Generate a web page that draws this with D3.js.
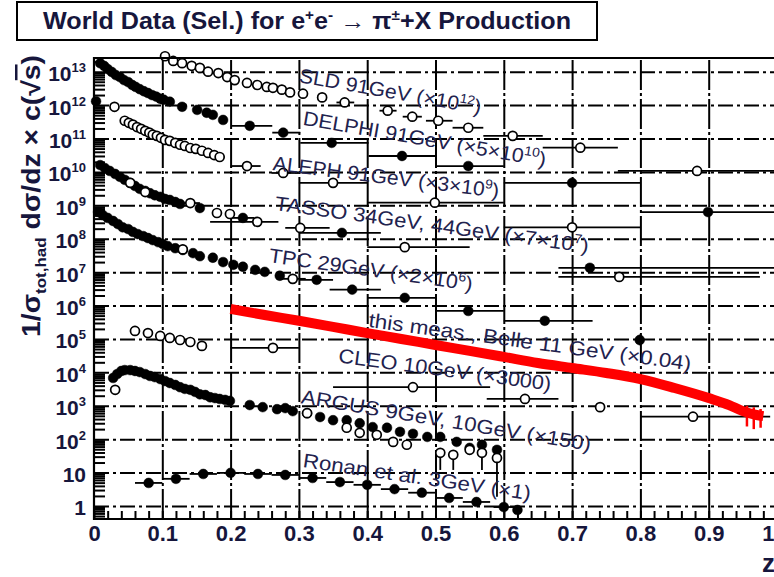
<!DOCTYPE html>
<html>
<head>
<meta charset="utf-8">
<script src="https://cdn.jsdelivr.net/npm/d3@7"></script>
<style>
  body { margin: 0; background: #fff; }
  svg { display: block; }
</style>
</head>
<body>
<svg id="chart" width="774" height="577"></svg>
<script>
// ---------------------------------------------------------------------------
// Scaled pi+- fragmentation data, 1/sigma_tot,had dsigma/dz x c(sqrt s)
// Each point: z, value, optional bin edges (lo, hi) and optional vertical
// error range (elo, ehi).
// ---------------------------------------------------------------------------

// SLD 91 GeV (x 1e12), open circles
const sld = [
  {z:0.030,v:8.9e11},
  {z:0.104,v:2.9e13},{z:0.116,v:2.1e13},{z:0.129,v:1.8e13},{z:0.143,v:1.5e13},
  {z:0.155,v:1.3e13},{z:0.167,v:1.0e13},{z:0.182,v:9.1e12},{z:0.195,v:6.9e12},
  {z:0.206,v:5.6e12},{z:0.224,v:4.6e12},{z:0.239,v:4.0e12},{z:0.253,v:3.5e12},
  {z:0.262,v:3.3e12},{z:0.275,v:2.9e12},{z:0.287,v:2.4e12},{z:0.306,v:2.2e12},
  {z:0.334,v:1.7e12},
  {z:0.367,v:1.2e12,lo:0.355,hi:0.381},{z:0.430,v:6.8e11,lo:0.418,hi:0.443},
  {z:0.466,v:4.5e11,lo:0.452,hi:0.480},{z:0.504,v:3.4e11,lo:0.486,hi:0.525},
  {z:0.548,v:2.1e11,lo:0.525,hi:0.570},{z:0.613,v:1.2e11,lo:0.570,hi:0.657},
  {z:0.712,v:5.3e10,lo:0.657,hi:0.767},{z:0.883,v:1.07e10,lo:0.767,hi:1.0}
];

// DELPHI 91 GeV (x 5e10), filled circles
const delphi = [
  {z:0.003,v:1.3e12},
  {z:0.009,v:1.8e13},{z:0.015,v:1.48e13},{z:0.020,v:1.2e13},{z:0.026,v:9.8e12},
  {z:0.032,v:7.9e12},{z:0.038,v:6.9e12},{z:0.044,v:5.6e12},{z:0.050,v:4.9e12},
  {z:0.056,v:4.0e12},{z:0.061,v:3.5e12},{z:0.067,v:3.0e12},{z:0.073,v:2.6e12},
  {z:0.079,v:2.3e12},{z:0.085,v:2.0e12},{z:0.091,v:1.8e12},{z:0.097,v:1.55e12},
  {z:0.102,v:1.45e12},{z:0.111,v:1.26e12},{z:0.129,v:8.9e11},{z:0.151,v:7.2e11},
  {z:0.165,v:5.9e11},{z:0.174,v:5.1e11},{z:0.189,v:3.6e11},
  {z:0.228,v:2.4e11,lo:0.201,hi:0.261},{z:0.277,v:1.5e11,lo:0.261,hi:0.302},
  {z:0.348,v:7.4e10,lo:0.302,hi:0.402},{z:0.451,v:3.0e10,lo:0.402,hi:0.502},
  {z:0.548,v:1.5e10,lo:0.502,hi:0.600},{z:0.700,v:4.7e9,lo:0.600,hi:0.800},
  {z:0.899,v:6.3e8,lo:0.800,hi:1.0}
];

// ALEPH 91 GeV (x 3e9), open circles
const aleph = [
  {z:0.045,v:3.4e11},{z:0.051,v:2.95e11},{z:0.057,v:2.6e11},{z:0.063,v:2.2e11},
  {z:0.069,v:1.95e11},{z:0.075,v:1.7e11},{z:0.081,v:1.5e11},{z:0.086,v:1.3e11},
  {z:0.092,v:1.2e11},{z:0.098,v:1.05e11},{z:0.104,v:9.1e10},{z:0.111,v:8.5e10},
  {z:0.119,v:7.4e10},{z:0.126,v:6.5e10},{z:0.133,v:6.0e10},{z:0.141,v:5.2e10},
  {z:0.149,v:4.9e10},{z:0.158,v:4.3e10},{z:0.167,v:3.7e10},{z:0.176,v:3.2e10},
  {z:0.184,v:2.8e10},
  {z:0.224,v:1.5e10,lo:0.200,hi:0.244},{z:0.277,v:9.3e9,lo:0.260,hi:0.300},
  {z:0.350,v:4.7e9,lo:0.300,hi:0.400},{z:0.499,v:1.2e9,lo:0.400,hi:0.600},
  {z:0.700,v:2.2e8,lo:0.600,hi:0.800}
];

// TASSO 34 GeV (x 7e7), filled circles
const tasso34 = [
  {z:0.009,v:1.6e10},{z:0.016,v:1.3e10},{z:0.023,v:1.07e10},{z:0.031,v:8.7e9},
  {z:0.038,v:7.1e9},{z:0.045,v:5.8e9},{z:0.053,v:4.7e9},{z:0.060,v:3.8e9},
  {z:0.067,v:3.1e9},{z:0.075,v:2.7e9},{z:0.082,v:2.3e9},{z:0.089,v:2.0e9},
  {z:0.097,v:1.8e9},{z:0.104,v:1.55e9},{z:0.111,v:1.45e9},{z:0.119,v:1.26e9},
  {z:0.126,v:1.1e9},{z:0.155,v:8.3e8},
  {z:0.218,v:4.2e8,lo:0.200,hi:0.235},{z:0.363,v:1.5e8,lo:0.300,hi:0.420},
  {z:0.726,v:1.35e7,lo:0.680,hi:1.0}
];

// TASSO 44 GeV (x 7e7), open circles
const tasso44 = [
  {z:0.053,v:4.7e9},{z:0.075,v:2.5e9},{z:0.141,v:1.17e9,lo:0.130,hi:0.155},
  {z:0.180,v:5.9e8},{z:0.199,v:5.5e8},{z:0.239,v:3.2e8,lo:0.170,hi:0.270},
  {z:0.302,v:2.1e8,lo:0.280,hi:0.345},{z:0.455,v:5.6e7,lo:0.400,hi:0.550},
  {z:0.769,v:7.2e6,lo:0.680,hi:0.975}
];

// TPC 29 GeV (x 2e6), filled circles
const tpc = [
  {z:0.006,v:6.3e8},{z:0.013,v:5.1e8},{z:0.020,v:4.2e8},{z:0.028,v:3.4e8},
  {z:0.035,v:2.75e8},{z:0.042,v:2.2e8},{z:0.050,v:1.95e8},{z:0.057,v:1.6e8},
  {z:0.064,v:1.38e8},{z:0.072,v:1.2e8},{z:0.079,v:1.05e8},{z:0.086,v:9.1e7},
  {z:0.094,v:7.9e7},{z:0.101,v:6.9e7},{z:0.108,v:6.0e7},{z:0.119,v:5.2e7},
  {z:0.130,v:4.6e7},{z:0.145,v:3.7e7},{z:0.155,v:3.0e7},{z:0.174,v:2.7e7},
  {z:0.189,v:2.0e7},{z:0.204,v:1.66e7},{z:0.218,v:1.45e7},{z:0.236,v:1.17e7},
  {z:0.250,v:1.02e7},{z:0.272,v:7.8e6},
  {z:0.326,v:5.9e6,lo:0.300,hi:0.350},{z:0.378,v:3.0e6,lo:0.345,hi:0.420},
  {z:0.455,v:1.7e6,lo:0.400,hi:0.500},{z:0.548,v:6.9e5,lo:0.500,hi:0.600},
  {z:0.660,v:3.5e5,lo:0.600,hi:0.730},{z:0.799,v:9.3e4,elo:6.5e4,ehi:1.35e5}
];

// TPC 29 GeV (x 2e6), open circles
const tpcOpen = [
  {z:0.130,v:4.8e7},{z:0.291,v:6.3e6,lo:0.270,hi:0.310}
];

// CLEO 10 GeV (x 3000), open circles
const cleo = [
  {z:0.060,v:1.74e5},{z:0.079,v:1.5e5},{z:0.097,v:1.23e5},{z:0.111,v:1.07e5},
  {z:0.126,v:9.3e4},{z:0.141,v:8.1e4},{z:0.158,v:6.2e4},
  {z:0.262,v:5.4e4,lo:0.200,hi:0.300},{z:0.467,v:3.6e3,lo:0.350,hi:0.580},
  {z:0.631,v:1.6e3,lo:0.575,hi:0.680},{z:0.741,v:9.1e2},
  {z:0.877,v:4.7e2,lo:0.800,hi:0.990}
];

// ARGUS 9 GeV (x 150), filled circles
const argus9 = [
  {z:0.028,v:6.8e3},{z:0.034,v:8.9e3},{z:0.040,v:1.1e4},{z:0.045,v:1.17e4},
  {z:0.053,v:1.17e4},{z:0.060,v:1.1e4},{z:0.067,v:1.02e4},{z:0.075,v:8.9e3},
  {z:0.082,v:7.8e3},{z:0.089,v:7.2e3},{z:0.097,v:6.3e3},{z:0.104,v:5.5e3},
  {z:0.111,v:4.8e3},{z:0.119,v:4.2e3},{z:0.126,v:3.6e3},{z:0.133,v:3.2e3},
  {z:0.141,v:3.0e3},{z:0.148,v:2.6e3},{z:0.155,v:2.2e3},{z:0.163,v:2.1e3},
  {z:0.170,v:1.8e3},{z:0.177,v:1.7e3},{z:0.184,v:1.6e3},{z:0.192,v:1.5e3},
  {z:0.199,v:1.4e3},{z:0.228,v:1.05e3},{z:0.247,v:9.1e2},{z:0.268,v:7.9e2},
  {z:0.280,v:8.5e2},{z:0.291,v:6.9e2},{z:0.312,v:6.0e2},{z:0.331,v:4.6e2},
  {z:0.350,v:3.7e2},{z:0.370,v:3.7e2},{z:0.389,v:3.0e2},{z:0.408,v:2.3e2},
  {z:0.429,v:2.2e2},{z:0.448,v:1.66e2},{z:0.467,v:1.45e2},{z:0.488,v:1.17e2},
  {z:0.507,v:1.17e2},{z:0.531,v:8.3e1},{z:0.550,v:5.5e1},{z:0.568,v:6.8e1},
  {z:0.590,v:4.8e1}
];

// ARGUS 10 GeV (x 150), open circles
const argus10 = [
  {z:0.031,v:3.0e3},{z:0.312,v:6.0e2},{z:0.370,v:2.2e2},{z:0.389,v:1.55e2},
  {z:0.414,v:1.35e2},{z:0.438,v:8.3e1},{z:0.458,v:6.8e1},
  {z:0.507,v:3.9e1,elo:1.2e1},{z:0.526,v:3.4e1,elo:1.2e1},{z:0.550,v:4.8e1},
  {z:0.568,v:3.9e1,elo:1.2e1},{z:0.590,v:2.75e1,elo:1.9}
];

// Ronan et al. 3 GeV (x 1), filled circles
const ronan = [
  {z:0.08,v:4.9,lo:0.06,hi:0.10},{z:0.12,v:6.5,lo:0.10,hi:0.14},
  {z:0.16,v:9.1,lo:0.14,hi:0.18},{z:0.20,v:9.8,lo:0.18,hi:0.22},
  {z:0.24,v:9.1,lo:0.22,hi:0.26},{z:0.28,v:8.5,lo:0.26,hi:0.30},
  {z:0.32,v:6.9,lo:0.30,hi:0.34},{z:0.36,v:5.2,lo:0.34,hi:0.38},
  {z:0.40,v:4.3,lo:0.38,hi:0.42},{z:0.44,v:3.2,lo:0.42,hi:0.46},
  {z:0.48,v:2.5,lo:0.46,hi:0.50},{z:0.52,v:1.74,lo:0.50,hi:0.54},
  {z:0.56,v:1.32,lo:0.54,hi:0.58},{z:0.60,v:0.93,lo:0.585,hi:0.615},
  {z:0.62,v:0.76}
];

// Belle 11 GeV, this measurement (x 0.04)
const belle = [
  {z:0.20,v:7.9e5},{z:0.25,v:5.2e5},{z:0.30,v:3.5e5},{z:0.35,v:2.3e5},
  {z:0.40,v:1.5e5},{z:0.45,v:1.0e5},{z:0.50,v:6.6e4},{z:0.55,v:4.4e4},
  {z:0.60,v:2.9e4},{z:0.65,v:1.9e4},{z:0.70,v:1.35e4},{z:0.75,v:9.6e3},
  {z:0.80,v:6.3e3},{z:0.85,v:3.4e3},{z:0.90,v:1.7e3},{z:0.93,v:1.05e3},
  {z:0.95,v:6.9e2},{z:0.97,v:5.3e2},{z:0.98,v:4.9e2}
];
// Belle error bars in the last bins
const belleTail = [
  {z:0.956,elo:2.4e2,ehi:1.0e3},{z:0.966,elo:2.0e2,ehi:9.0e2},{z:0.976,elo:2.2e2,ehi:8.0e2}
];

// Axis ticks
const xMajor = [0,0.1,0.2,0.3,0.4,0.5,0.6,0.7,0.8,0.9,1];
const xMajorLabels = ["0","0.1","0.2","0.3","0.4","0.5","0.6","0.7","0.8","0.9","1"];
const yDecadeExp = [0,1,2,3,4,5,6,7,8,9,10,11,12,13];

// Series annotations: text parts, anchor (z, value), end z, rotation
const notes = [
  {parts:[["SLD 91GeV (\u00d710"],["12","sup"],[")"]], z:0.299, v:4.9e12, zEnd:0.565, angle:10},
  {parts:[["DELPHI 91GeV (\u00d75\u00d710"],["10","sup"],[")"]], z:0.305, v:2.6e11, zEnd:0.660, angle:9.8},
  {parts:[["ALEPH 91GeV (\u00d73\u00d710"],["9","sup"],[")"]], z:0.261, v:1.15e10, zEnd:0.592, angle:7},
  {parts:[["TASSO 34GeV, 44GeV (\u00d77\u00d710"],["7","sup"],[")"]], z:0.264, v:7.3e8, zEnd:0.723, angle:7.8},
  {parts:[["TPC 29GeV (\u00d72\u00d710"],["6","sup"],[")"]], z:0.255, v:2.0e7, zEnd:0.553, angle:8},
  {parts:[["this meas., Belle 11 GeV (\u00d70.04)"]], z:0.401, v:2.3e5, zEnd:0.873, angle:7.7},
  {parts:[["CLEO 10GeV (\u00d73000)"]], z:0.357, v:2.0e4, zEnd:0.668, angle:7.6},
  {parts:[["ARGUS 9GeV, 10GeV (\u00d7150)"]], z:0.302, v:1.2e3, zEnd:0.726, angle:9.4},
  {parts:[["Ronan et al. 3GeV (\u00d71)"]], z:0.305, v:14.7, zEnd:0.638, angle:8.3}
];

// ---------------------------------------------------------------------------
const svg = d3.select("#chart");
const pL = 94, pR = 777, pT = 58, pB = 519;
const TXT = "#16163c";
const FONT = "'Liberation Sans', Arial, Helvetica, sans-serif";

const x = d3.scaleLinear().domain([0, 1]).range([pL, pR]);
const y = d3.scaleLog().domain([0.408, 2.57e13]).range([pB, pT]);

svg.append("rect").attr("width", 774).attr("height", 577).attr("fill", "#fff");

// Title box
svg.append("rect").attr("x", 17).attr("y", 2).attr("width", 580).attr("height", 38)
  .attr("fill", "#fff").attr("stroke", "#000").attr("stroke-width", 2);
const title = svg.append("text").attr("x", 43).attr("y", 29)
  .attr("font-family", FONT).attr("font-weight", "bold").attr("font-size", 23)
  .attr("fill", TXT).attr("textLength", 528).attr("lengthAdjust", "spacingAndGlyphs");
title.append("tspan").text("World Data (Sel.) for e");
title.append("tspan").attr("font-size", 14).attr("dy", -9).text("+");
title.append("tspan").attr("dy", 9).text("e");
title.append("tspan").attr("font-size", 14).attr("dy", -9).text("-");
title.append("tspan").attr("dy", 9).text(" \u2192 \u03c0");
title.append("tspan").attr("font-size", 14).attr("dy", -9).text("\u00b1");
title.append("tspan").attr("dy", 9).text("+X Production");

// Grid: vertical lines at the major z values, horizontal lines at decades
const decades = yDecadeExp.map(e => Math.pow(10, e));
const gridX = svg.append("g").attr("transform", `translate(0,${pB})`)
  .call(d3.axisBottom(x).tickValues(xMajor.filter(d => d > 0 && d < 1))
    .tickSize(-(pB - pT)).tickFormat(""));
gridX.select(".domain").remove();
gridX.selectAll("line").attr("stroke", "#000").attr("stroke-width", 2)
  .attr("stroke-dasharray", "30,3,3,3");

const gridY = svg.append("g").attr("transform", `translate(${pL},0)`)
  .call(d3.axisLeft(y).tickValues(decades).tickSize(-(pR - pL)).tickFormat(""));
gridY.select(".domain").remove();
gridY.selectAll("line").attr("stroke", "#000").attr("stroke-width", 2)
  .attr("stroke-dasharray", "15,4,3,4");

// Data series
const plot = svg.append("g");
function drawSeries(data, open) {
  const g = plot.append("g");
  g.selectAll("line.hbar").data(data.filter(d => d.lo !== undefined)).join("line")
    .attr("class", "hbar")
    .attr("x1", d => x(d.lo)).attr("x2", d => x(Math.min(d.hi, 1.0)))
    .attr("y1", d => y(d.v)).attr("y2", d => y(d.v))
    .attr("stroke", "#000").attr("stroke-width", 1.8);
  g.selectAll("line.vbar").data(data.filter(d => d.elo !== undefined)).join("line")
    .attr("class", "vbar")
    .attr("x1", d => x(d.z)).attr("x2", d => x(d.z))
    .attr("y1", d => y(d.elo)).attr("y2", d => y(d.ehi !== undefined ? d.ehi : d.v))
    .attr("stroke", "#000").attr("stroke-width", 1.8);
  g.selectAll("circle").data(data).join("circle")
    .attr("cx", d => x(d.z)).attr("cy", d => y(d.v))
    .attr("r", open ? 4.5 : 4.9)
    .attr("fill", open ? "#fff" : "#000")
    .attr("stroke", "#000").attr("stroke-width", open ? 1.7 : 0.5);
}
drawSeries(sld, true);
drawSeries(delphi, false);
drawSeries(aleph, true);
drawSeries(tasso34, false);
drawSeries(tasso44, true);
drawSeries(tpc, false);
drawSeries(tpcOpen, true);
drawSeries(cleo, true);
drawSeries(argus9, false);
drawSeries(argus10, true);
drawSeries(ronan, false);

// Annotations
const noteG = svg.append("g");
notes.forEach(n => {
  const x0 = x(n.z), y0 = y(n.v);
  const len = (x(n.zEnd) - x0) / Math.cos(n.angle * Math.PI / 180);
  const t = noteG.append("text")
    .attr("transform", `translate(${x0},${y0}) rotate(${n.angle})`)
    .attr("font-family", FONT).attr("font-size", 20).attr("fill", "#22224e")
    .attr("textLength", len).attr("lengthAdjust", "spacingAndGlyphs");
  let shifted = false;
  n.parts.forEach(p => {
    const s = t.append("tspan").text(p[0]);
    if (p[1] === "sup") { s.attr("font-size", 13).attr("dy", -8); shifted = true; }
    else if (shifted) { s.attr("dy", 8); shifted = false; }
  });
});

// Belle measurement band
const belleLine = d3.line().x(d => x(d.z)).y(d => y(d.v)).curve(d3.curveMonotoneX);
svg.append("path").datum(belle).attr("d", belleLine)
  .attr("fill", "none").attr("stroke", "#ff0000").attr("stroke-width", 10);
svg.append("g").selectAll("line").data(belleTail).join("line")
  .attr("x1", d => x(d.z)).attr("x2", d => x(d.z))
  .attr("y1", d => y(d.elo)).attr("y2", d => y(d.ehi))
  .attr("stroke", "#ff0000").attr("stroke-width", 2.5);

// Minor ticks
const minorY = [];
for (let e = -1; e <= 13; e++) for (let m = 2; m <= 9; m++) {
  const v = m * Math.pow(10, e);
  if (v > 0.408 && v < 2.57e13) minorY.push(v);
}
const ticksY = svg.append("g").attr("transform", `translate(${pL},0)`)
  .call(d3.axisLeft(y).tickValues(minorY).tickSize(-11).tickFormat(""));
ticksY.select(".domain").remove();
ticksY.selectAll("line").attr("stroke", "#000").attr("stroke-width", 2);

const ticksX = svg.append("g").attr("transform", `translate(0,${pB})`)
  .call(d3.axisBottom(x).tickValues(d3.range(0, 51).map(i => i / 50)).tickSize(-8).tickFormat(""));
ticksX.select(".domain").remove();
ticksX.selectAll("line").attr("stroke", "#000").attr("stroke-width", 2);

// Frame
svg.append("path")
  .attr("d", `M${pR},${pT}H${pL}V${pB}H${pR}`)
  .attr("fill", "none").attr("stroke", "#000").attr("stroke-width", 2.2);

// Tick labels
const labX = svg.append("g").attr("transform", `translate(0,${pB})`)
  .call(d3.axisBottom(x).tickValues(xMajor).tickSize(0).tickPadding(0)
    .tickFormat((d, i) => xMajorLabels[i]));
labX.select(".domain").remove();
labX.selectAll("text").attr("y", 22).attr("dy", 0)
  .attr("font-family", FONT).attr("font-weight", "bold").attr("font-size", 22).attr("fill", TXT);
// the last label sits at the right border of the page
labX.selectAll(".tick").filter(d => d === 1).select("text")
  .attr("text-anchor", "end").attr("x", 774 - pR);

const labY = svg.append("g").attr("transform", `translate(${pL},0)`)
  .call(d3.axisLeft(y).tickValues(decades).tickSize(0).tickFormat(""));
labY.select(".domain").remove();
labY.selectAll(".tick text").each(function (v) {
  const e = Math.round(Math.log10(v));
  const t = d3.select(this).attr("x", -8).attr("y", 9).attr("dy", 0)
    .attr("text-anchor", "end").attr("font-family", FONT).attr("font-weight", "bold")
    .attr("font-size", 21).attr("fill", TXT);
  if (e === 0) t.text("1");
  else if (e === 1) t.text("10");
  else {
    t.append("tspan").text("10");
    t.append("tspan").attr("font-size", 13).attr("dy", -9).text(e);
  }
});

// Axis titles
svg.append("text").attr("x", 762).attr("y", 572)
  .attr("font-family", FONT).attr("font-weight", "bold").attr("font-size", 26)
  .attr("fill", TXT).text("z");

const yt = svg.append("text").attr("transform", "translate(40,337) rotate(-90)")
  .attr("font-family", FONT).attr("font-weight", "bold").attr("font-size", 25)
  .attr("fill", TXT).attr("textLength", 282).attr("lengthAdjust", "spacingAndGlyphs");
yt.append("tspan").text("1/\u03c3");
yt.append("tspan").attr("font-size", 15).attr("dy", 6).text("tot,had");
yt.append("tspan").attr("dy", -6).text(" d\u03c3/dz \u00d7 c(\u221a");
yt.append("tspan").style("text-decoration", "overline").text("s");
yt.append("tspan").text(")");
</script>
</body>
</html>
